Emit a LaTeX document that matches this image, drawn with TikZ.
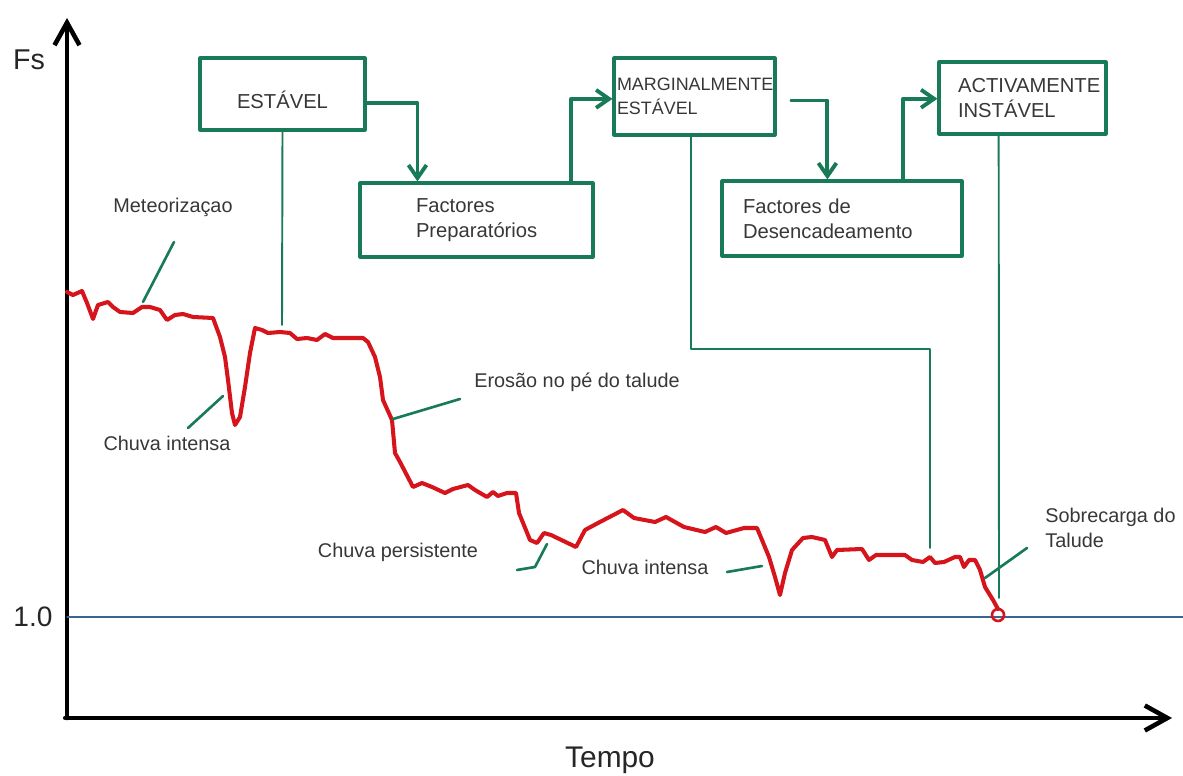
\documentclass[tikz,border=0pt]{standalone}
\usepackage{fontspec}
\setmainfont{Liberation Sans}
\usetikzlibrary{arrows.meta,calc}
\definecolor{verde}{RGB}{24,122,86}
\definecolor{vermelho}{RGB}{214,20,28}
\definecolor{azul}{RGB}{60,100,140}
\definecolor{cinza}{RGB}{55,55,55}
\begin{document}
\begin{tikzpicture}[x=0.02cm, y=-0.02cm, line join=round, line cap=round,
		caixa/.style={draw=verde, line width=1.8pt, text=cinza, align=left, font=\fontsize{11.5}{14}\selectfont},
		fluxo/.style={draw=verde, line width=2.2pt, -{Straight Barb[length=0.26cm,width=0.36cm]}},
		ligacao/.style={draw=verde, line width=1.1pt},
		seta/.style={draw=verde, line width=1.5pt},
		rotulo/.style={text=cinza, font=\fontsize{11.3}{14}\selectfont, align=left, inner sep=0pt},
		eixo/.style={line width=2.6pt, -{Straight Barb[length=0.45cm,width=0.5cm]}},
		grande/.style={text=black!85, inner sep=0pt}]
	\useasboundingbox (0,0) rectangle (1183,776);
	\coordinate (O) at (67,718);
	\draw[eixo] (O) -- (67,18);
	\draw[eixo] ([xshift=-1pt]O) -- (1172,718);
	\node[grande, font=\fontsize{16.3}{18}\selectfont] (fs) at (29,60) {Fs};
	\node[grande, font=\fontsize{16}{18}\selectfont] (um) at (33,617) {1.0};
	\node[grande, font=\fontsize{17}{20}\selectfont] (tempo) at (610,760) {Tempo};
	\draw[azul, line width=0.6pt] (67,617) -- (1183,617);
	\node[caixa, minimum width=3.3cm, minimum height=1.44cm, align=center, text height=0.6cm, text depth=0.03cm] (estavel) at (282.5,94) {ESTÁVEL};
	\node[caixa, minimum height=1.48cm, inner xsep=1.12cm, text width=2.42cm] (prep) at (476.5,220) {Factores\\Preparatórios};
	\node[caixa, minimum height=1.54cm, inner xsep=0.06cm, text width=3.1cm, font=\fontsize{10.2}{13.6}\selectfont] (marg) at (694.5,96.5) {MARGINALMENTE\\ESTÁVEL};
	\node[caixa, minimum height=1.5cm, inner xsep=0.42cm, text width=3.96cm] (desenc) at (842,218.5) {Factores de\\Desencadeamento};
	\node[caixa, minimum height=1.44cm, inner xsep=0.38cm, text width=2.58cm] (activ) at (1022.5,98) {ACTIVAMENTE\\INSTÁVEL};
	\draw[fluxo] ($(estavel.north east)!0.62!(estavel.south east)$) -| ($(prep.north west)!0.25!(prep.north east)$);
	\draw[fluxo] ($(prep.north west)!0.9!(prep.north east)$) |- ($(marg.north west)!0.53!(marg.south west)$);
	\draw[fluxo] ($(marg.north east)!0.55!(marg.south east)+(15,0)$) -| ($(desenc.north west)!0.44!(desenc.north east)$);
	\draw[fluxo] ($(desenc.north west)!0.75!(desenc.north east)$) |- ($(activ.north west)!0.51!(activ.south west)$);
	\draw[vermelho, line width=2.3pt] plot coordinates {(67,292) (73,295) (82,291) (87,303) (93,319) (98,305) (108,302) (113,307) (120,312) (133,313) (142,307) (150,307) (160,310) (167,320) (175,315) (183,314) (193,317) (213,318) (220,337) (225,357) (228,380) (232,413) (235,425) (240,417) (245,387) (250,353) (255,328) (262,330) (268,333) (280,332) (290,333) (297,339) (307,338) (317,340) (325,334) (333,338) (363,338) (368,342) (375,357) (380,377) (383,400) (392,420) (395,453) (400,462) (413,487) (422,483) (432,487) (445,493) (453,489) (468,485) (475,490) (487,497) (493,492) (498,496) (507,493) (516,493) (519,513) (530,540) (537,543) (544,533) (551,535) (576,547) (585,530) (598,523) (623,510) (634,518) (655,522) (666,517) (675,522) (684,527) (705,532) (716,527) (726,533) (744,528) (757,528) (762,540) (769,557) (775,577) (780,595) (785,573) (792,550) (803,538) (812,537) (825,540) (832,557) (837,550) (862,549) (869,560) (876,555) (905,555) (912,560) (923,562) (930,557) (935,563) (944,562) (955,557) (960,557) (964,567) (969,560) (975,560) (980,570) (985,587) (993,600) (998,609)};
	\draw[vermelho, line width=1.5pt] (998,615) circle[radius=0.12cm];
	\coordinate (estfim) at (282,325);
	\coordinate (dobra) at (930,349);
	\coordinate (margfim) at (930,548);
	\coordinate (activfim) at (999,598);
	\draw[ligacao] (estavel.south) -- (estfim);
	\draw[ligacao] ($(marg.south west)!0.48!(marg.south east)$) |- (dobra) -- (margfim);
	\draw[ligacao] ($(activ.south west)!0.36!(activ.south east)$) -- (activfim);
	\node[rotulo] (meteo) at (173,207) {Meteorizaçao};
	\node[rotulo] (chuva) at (167,443) {Chuva intensa};
	\node[rotulo] (erosao) at (577,382) {Erosão no pé do talude};
	\node[rotulo] (persist) at (398,552) {Chuva persistente};
	\node[rotulo] (chuvab) at (645,567) {Chuva intensa};
	\node[rotulo, anchor=west] (sobre) at (1045,528) {Sobrecarga do\\Talude};
	\coordinate (m1) at (174,242); \coordinate (m2) at (143,302);
	\coordinate (c1) at (223,396); \coordinate (c2) at (188,428);
	\coordinate (e1) at (393,419); \coordinate (e2) at (460,399);
	\coordinate (p1) at (517,570); \coordinate (p2) at (535,567); \coordinate (p3) at (547,544);
	\coordinate (i1) at (727,572); \coordinate (i2) at (762,566);
	\coordinate (s1) at (985,578); \coordinate (s2) at (1027,548);
	\draw[seta] (m1) -- (m2);
	\draw[seta] (c1) -- (c2);
	\draw[seta] (e1) -- (e2);
	\draw[seta] (p1) -- (p2) -- (p3);
	\draw[seta] (i1) -- (i2);
	\draw[seta] (s1) -- (s2);
\end{tikzpicture}
\end{document}
